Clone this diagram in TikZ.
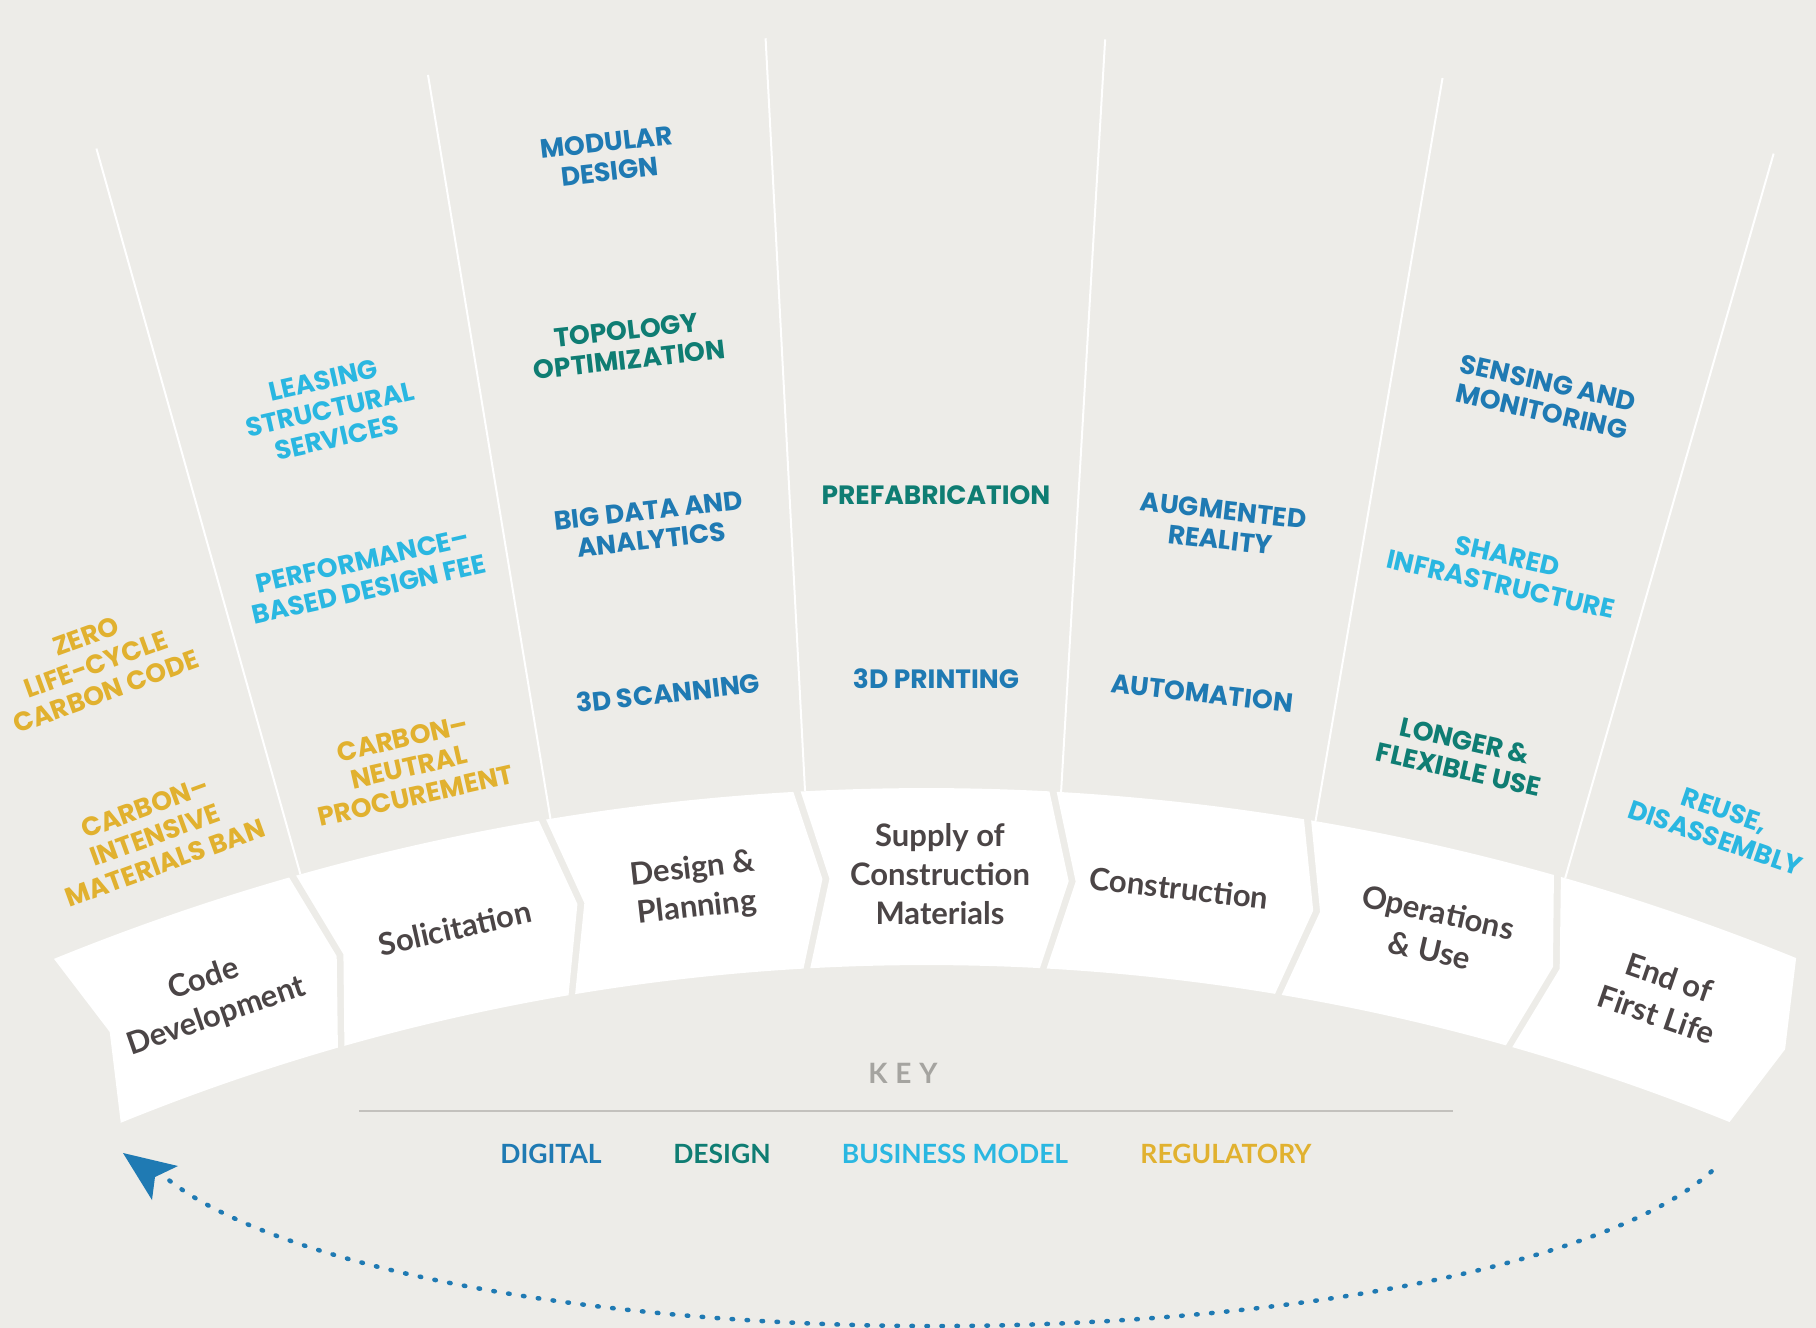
\documentclass[tikz,border=0pt]{standalone}
\usepackage{fontspec}
\newfontfamily\capsfont{Poppins}
\newfontfamily\stagefont{Lato}
\newfontfamily\keyfont{Lato}[LetterSpace=28]
\usetikzlibrary{calc}
\definecolor{bg}{RGB}{237,236,232}
\definecolor{cdig}{RGB}{31,122,179}
\definecolor{cdes}{RGB}{15,125,115}
\definecolor{cbus}{RGB}{42,183,225}
\definecolor{creg}{RGB}{225,177,47}
\definecolor{cstage}{RGB}{75,69,70}
\definecolor{ckey}{RGB}{165,164,160}
\definecolor{cline}{RGB}{195,193,189}
\tikzset{
  lab/.style={font=\capsfont\bfseries\fontsize{26.5}{29.5}\selectfont, align=center, inner sep=0pt},
  dig/.style={lab, text=cdig},
  des/.style={lab, text=cdes},
  bus/.style={lab, text=cbus},
  reg/.style={lab, text=creg},
  stage/.style={font=\stagefont\bfseries\fontsize{31}{39}\selectfont, text=cstage, align=center, inner sep=0pt},
  legend/.style={font=\stagefont\bfseries\fontsize{26.5}{30}\selectfont, anchor=base, inner sep=0pt},
  ray/.style={white, line width=2pt},
  dots/.style={cdig, line width=4.5pt, line cap=round, dash pattern=on 1.5pt off 13.5pt},
}
\begin{document}
\begin{tikzpicture}[x=1pt,y=1pt]
\fill[bg] (0,0) rectangle (1816,-1328);
\useasboundingbox (0,0) rectangle (1816,-1328);
\coordinate (C) at (926,-3100);

% radial white lines
\foreach \k in {1,...,6}{
  \pgfmathsetmacro\ang{-22.25+6.35*\k+0.2}
  \draw[ray] ($(C)+({90-\ang}:2312pt)$) -- ($(C)+({90-\ang}:3066pt)$);
}

% stage segments (chevrons along the arc)
\foreach \k in {0,...,6}{
  \pgfmathsetmacro\La{-22.25+6.35*\k+0.09}
  \pgfmathsetmacro\Rb{-22.25+6.35*(\k+1)-0.09}
  \fill[white] ($(C)+({90-\La}:2312pt)$)
     arc[start angle={90-\La}, end angle={90-\Rb}, radius=2312pt]
     -- ($(C)+({90-\Rb-0.62}:2223.5pt)$)
     -- ($(C)+({90-\Rb}:2135pt)$)
     arc[start angle={90-\Rb}, end angle={90-\La}, radius=2135pt]
     -- ($(C)+({90-\La-0.62}:2223.5pt)$) -- cycle;
}

% stage labels
\node[stage, rotate=19]    (s1) at (210,-998) {Code\\Development};
\node[stage, rotate=12.7]  (s2) at (455,-928) {Solicitation};
\node[stage, rotate=6.35]  (s3) at (695,-889) {Design \&\\Planning};
\node[stage]               (s4) at (940,-874) {Supply of\\Construction\\Materials};
\node[stage, rotate=-6.35] (s5) at (1179,-888) {Construction};
\node[stage, rotate=-12.7] (s6) at (1434,-931) {Operations\\\& Use};
\node[stage, rotate=-19]   (s7) at (1663,-996) {End of\\First Life};

% column labels
\node[reg, rotate=20]     (l1)  at (96,-664)   {ZERO\\LIFE-CYCLE\\CARBON CODE};
\node[reg, rotate=20]     (l2)  at (155,-835)  {CARBON–\\INTENSIVE\\MATERIALS BAN};
\node[bus, rotate=12.7]   (l3)  at (330,-409)  {LEASING\\STRUCTURAL\\SERVICES};
\node[bus, rotate=12.7]   (l4)  at (366,-575)  {PERFORMANCE–\\BASED DESIGN FEE};
\node[reg, rotate=12.7]   (l5)  at (409,-767)  {CARBON–\\NEUTRAL\\PROCUREMENT};
\node[dig, rotate=6.35]   (l6)  at (608,-157)  {MODULAR\\DESIGN};
\node[des, rotate=6.35]   (l7)  at (628,-345)  {TOPOLOGY\\OPTIMIZATION};
\node[dig, rotate=6.35]   (l8)  at (650,-525)  {BIG DATA AND\\ANALYTICS};
\node[dig, rotate=6.35]   (l9)  at (668,-693)  {3D SCANNING};
\node[des]                (l10) at (936,-495)  {PREFABRICATION};
\node[dig]                (l11) at (936,-679)  {3D PRINTING};
\node[dig, rotate=-6.35]  (l12) at (1222,-525) {AUGMENTED\\REALITY};
\node[dig, rotate=-6.35]  (l13) at (1202,-693) {AUTOMATION};
\node[dig, rotate=-12.7]  (l14) at (1545,-397) {SENSING AND\\MONITORING};
\node[bus, rotate=-12.7]  (l15) at (1504,-570) {SHARED\\INFRASTRUCTURE};
\node[des, rotate=-12.7]  (l16) at (1462,-755) {LONGER \&\\FLEXIBLE USE};
\node[bus, rotate=-19]    (l17) at (1720,-824) {REUSE,\\DISASSEMBLY};

% key
\node[font=\keyfont\bfseries\fontsize{28}{32}\selectfont, text=ckey, inner sep=0pt] (key) at (903,-1073) {KEY};
\coordinate (kl) at (359,-1111);
\coordinate (kr) at (1453,-1111);
\draw[cline, line width=2.5pt] (kl) -- (kr);
\node[legend, text=cdig] (k1) at (551,-1163) {DIGITAL};
\node[legend, text=cdes] (k2) at (722,-1163) {DESIGN};
\node[legend, text=cbus] (k3) at (955,-1163) {BUSINESS MODEL};
\node[legend, text=creg] (k4) at (1226,-1163) {REGULATORY};

% return arrow
\coordinate (arcR) at ({935+810*cos(-16.5)},{-1110+216*sin(-16.5)});
\draw[dots] (arcR) arc[start angle=-16.5, end angle=-161, x radius=810pt, y radius=216pt];
\coordinate (tip) at (123,-1153);
\coordinate (b1) at (178,-1166);
\coordinate (nt) at (155,-1177);
\coordinate (b2) at (152,-1200);
\fill[cdig] (tip) -- (b1) -- (nt) -- (b2) -- cycle;
\end{tikzpicture}
\end{document}
